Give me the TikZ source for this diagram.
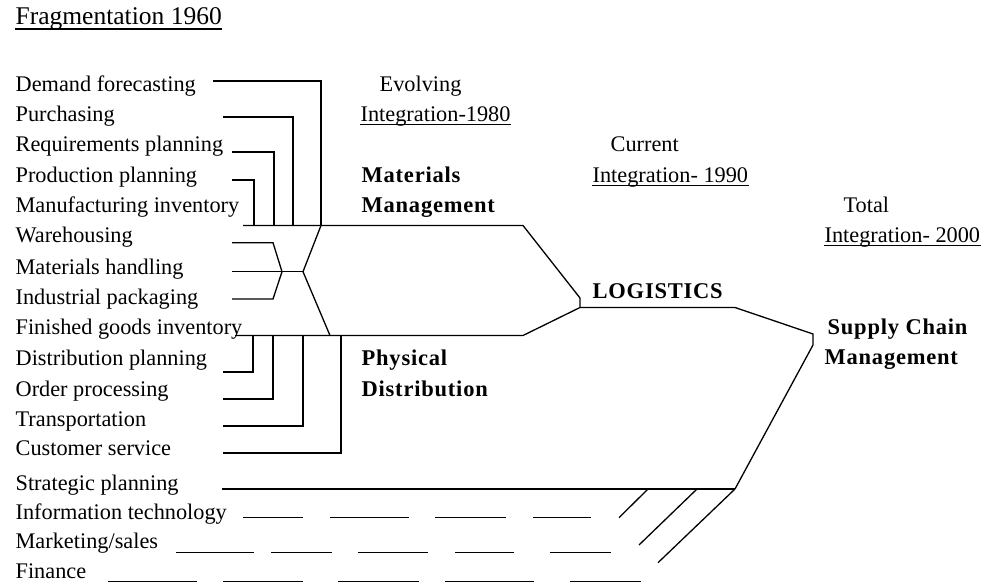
\documentclass[tikz,border=0pt]{standalone}
\usepackage{fontspec}
\setmainfont{Liberation Serif}
\newfontfamily\stagefont[LetterSpace=3.5]{Liberation Serif}
\begin{document}
\begin{tikzpicture}[
	x=1pt, y=-1pt,
	line width=1.3pt,
	item/.style={anchor=base west, inner sep=0pt, font=\fontsize{22.3}{26}\selectfont},
	stage/.style={anchor=base west, inner sep=0pt, font=\fontsize{22.5}{26}\stagefont\bfseries},
	title/.style={anchor=base west, inner sep=0pt, font=\fontsize{25.5}{30}\selectfont},
	uline/.style={line width=1.1pt}
]
\useasboundingbox (0,0) rectangle (986,585);
% heading
\node[title] (frag) at (15,25) {Fragmentation 1960};
\draw[uline] ([yshift=-4pt]frag.base west) -- ([yshift=-4pt]frag.base east);
% activities
\node[item] (df) at (15,92) {Demand forecasting};
\node[item] (pu) at (15,122) {Purchasing};
\node[item] (rp) at (15,152) {Requirements planning};
\node[item] (pp) at (15,183) {Production planning};
\node[item] (mi) at (15,213) {Manufacturing inventory};
\node[item] (wh) at (15,243) {Warehousing};
\node[item] (mh) at (15,275) {Materials handling};
\node[item] (ip) at (15,305) {Industrial packaging};
\node[item] (fg) at (15,335) {Finished goods inventory};
\node[item] (dp) at (15,366) {Distribution planning};
\node[item] (op) at (15,397) {Order processing};
\node[item] (tr) at (15,427) {Transportation};
\node[item] (cs) at (15,456) {Customer service};
\node[item] (sp) at (15,490) {Strategic planning};
\node[item] (it) at (15,519) {Information technology};
\node[item] (ms) at (15,548) {Marketing/sales};
\node[item] (fi) at (15,578) {Finance};
% eras
\node[item] (ev) at (379,92) {Evolving};
\node[item] (i80) at (360,122) {Integration-1980};
\node[item] (cu) at (610,152) {Current};
\node[item] (i90) at (592,183) {Integration- 1990};
\node[item] (to) at (843,213) {Total};
\node[item] (i00) at (824,243) {Integration- 2000};
\foreach \n in {i80,i90,i00}
	\draw[uline] ([yshift=-2.5pt]\n.base west) -- ([yshift=-2.5pt]\n.base east);
% stages
\node[stage] (mm1) at (361,183) {Materials};
\node[stage] (mm2) at (361,213) {Management};
\node[stage] (pd1) at (361,366) {Physical};
\node[stage] (pd2) at (361,397) {Distribution};
\node[stage] (lo) at (592,299) {LOGISTICS};
\node[stage] (sc1) at (827,335) {Supply Chain};
\node[stage] (sc2) at (824,365) {Management};
% junctions
\coordinate (mmA) at (254,225.5);
\coordinate (mmB) at (274,225.5);
\coordinate (mmC) at (293,225.5);
\coordinate (mmD) at (321,225.5);
\coordinate (whJ) at (282,271.7);
\coordinate (mhJ) at (303,271.7);
\coordinate (pdA) at (253,335.5);
\coordinate (pdB) at (273,335.5);
\coordinate (pdC) at (303,335.5);
\coordinate (pdD) at (341,335.5);
\coordinate (pdX) at (330,335.5);
\coordinate (lgJ) at (580,307.5);
\coordinate (scJ) at (813,345);
\coordinate (spJ) at (735,489);
% materials management
\draw (213,81) -| (mmD);
\draw (223,117) -| (mmC);
\draw (232,152) -| (mmB);
\draw (232,180) -| (mmA);
\draw (243,225.5) -- (523,225.5) -- (580,298) -- (lgJ);
% warehousing group
\draw (232,242.7) -- (273,242.7) -- (whJ);
\draw (232,299) -- (273,299) -- (whJ);
\draw (232,271.7) -- (mhJ);
\draw (mmD) -- (mhJ) -- (pdX);
% physical distribution
\draw (235,335.5) -- (523,335.5) -- (lgJ);
\draw (223,372) -| (pdA);
\draw (223,399) -| (pdB);
\draw (223,426) -| (pdC);
\draw (223,453) -| (pdD);
% logistics to supply chain
\draw (lgJ) -- (735,307.5) -- (813,334) -- (scJ) -- (spJ);
\draw (222,489) -- (spJ);
\draw (648,489) -- (619,517.7);
\draw (697,489) -- (639,545);
\draw (spJ) -- (658,562.7);
% dashed rows
\foreach \a/\b in {243/303,330/409,435/506,533/591}
	\draw (\a,517.7) -- (\b,517.7);
\foreach \a/\b in {176/254,271/332,358/428,455/514,550/611}
	\draw (\a,552.3) -- (\b,552.3);
\foreach \a/\b in {108/197,223/303,338/419,445/534,570/641}
	\draw (\a,581.7) -- (\b,581.7);
\end{tikzpicture}
\end{document}
